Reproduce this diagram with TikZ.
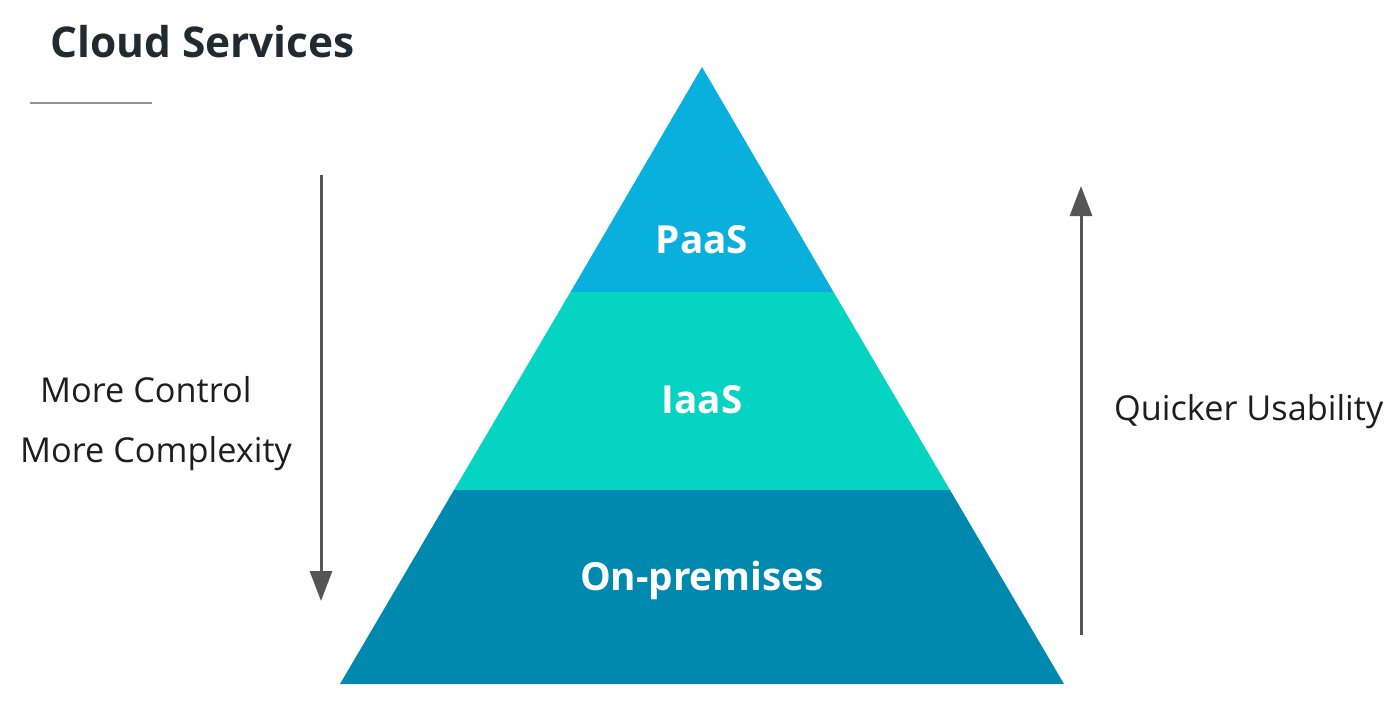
\documentclass[tikz,border=0pt]{standalone}
\usepackage{fontspec}
\setmainfont{Open Sans}
\usetikzlibrary{arrows.meta}
\definecolor{paas}{HTML}{09B0DE}
\definecolor{iaas}{HTML}{05D4C2}
\definecolor{onprem}{HTML}{0089AE}
\definecolor{arrowgray}{HTML}{555555}
\definecolor{titlecol}{HTML}{1F2B31}
\definecolor{textcol}{HTML}{1E1E1E}
\tikzset{
  layerlabel/.style={text=white, font=\fontsize{38.7}{44}\selectfont\bfseries, inner sep=0pt},
  sidelabel/.style={text=textcol, font=\fontsize{34.3}{40}\selectfont, inner sep=0pt},
  bigarrow/.style={draw=arrowgray, line width=3pt, -{Triangle[width=22pt,length=30pt]}},
}
\begin{document}
\begin{tikzpicture}[x=1pt,y=-1pt]
\useasboundingbox (0,0) rectangle (1400,712);
% triangle coordinates
\coordinate (apex) at (702,67);
\coordinate (bl) at (340,684);
\coordinate (br) at (1064,684);
\coordinate (pl) at (570.5,292);
\coordinate (pr) at (833.5,292);
\coordinate (il) at (454,490);
\coordinate (ir) at (950,490);
\fill[paas] (apex) -- (pr) -- (pl) -- cycle;
\fill[iaas] (pl) -- (pr) -- (ir) -- (il) -- cycle;
\fill[onprem] (il) -- (ir) -- (br) -- (bl) -- cycle;
% title
\node[anchor=base west, inner sep=0pt, text=titlecol, font=\fontsize{42.4}{48}\selectfont\bfseries] (title) at (50,57) {Cloud Services};
\coordinate (ulA) at (30,103);
\coordinate (ulB) at (152,103);
\draw[draw=gray!85, line width=1.6pt] (ulA) -- (ulB);
% layer labels
\node[layerlabel, anchor=base] (paasl) at (702,253) {PaaS};
\node[layerlabel, anchor=base] (iaasl) at (702,413) {IaaS};
\node[layerlabel, anchor=base] (onpl) at (702,590) {On-premises};
% side labels
\node[sidelabel, anchor=base west] (ctrl) at (40,402) {More Control};
\node[sidelabel, anchor=base west] (cplx) at (20,462) {More Complexity};
\node[sidelabel, anchor=base west] (quick) at (1114,420) {Quicker Usability};
% arrows
\coordinate (lt) at (321,175);
\coordinate (lb) at (321,601);
\coordinate (rb) at (1081,635);
\coordinate (rt) at (1081,186);
\draw[bigarrow] (lt) -- (lb);
\draw[bigarrow] (rb) -- (rt);
\end{tikzpicture}
\end{document}
